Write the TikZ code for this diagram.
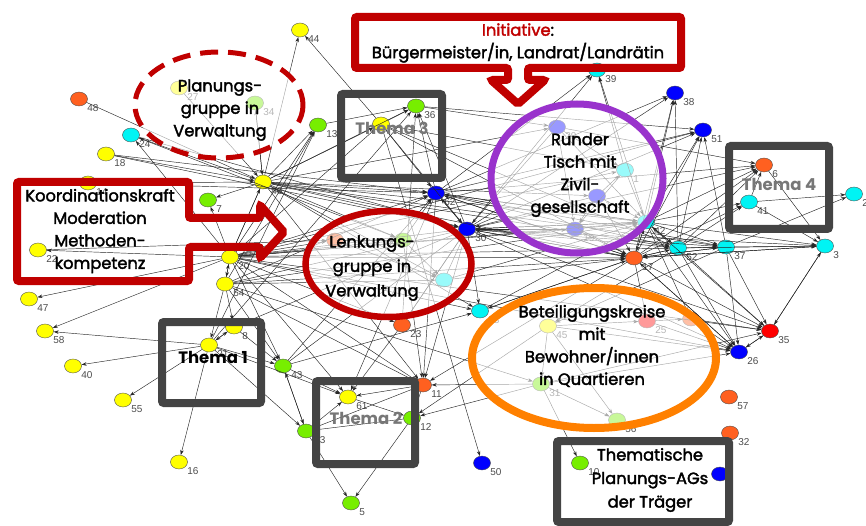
\documentclass[tikz,border=0pt]{standalone}
\usepackage{fontspec}
\setmainfont{Poppins}
\newfontfamily\bigfont{Poppins}[FakeBold=2.2]
\newfontfamily\lblfont{Liberation Sans}
\usetikzlibrary{arrows.meta,shapes.geometric}
\definecolor{yel}{HTML}{FFFF00}
\definecolor{grn}{HTML}{77EE00}
\definecolor{cyn}{HTML}{00F4F4}
\definecolor{blu}{HTML}{0000FF}
\definecolor{org}{HTML}{FF6020}
\definecolor{rd}{HTML}{FF0000}
\definecolor{dred}{HTML}{C00000}
\definecolor{purp}{HTML}{9933CC}
\definecolor{orng}{HTML}{FF8000}
\definecolor{tgray}{HTML}{444444}
\definecolor{thgray}{HTML}{777777}
\tikzset{
  gnode/.style={ellipse,draw=black!70,line width=0.4pt,minimum width=17pt,minimum height=14pt,inner sep=0pt},
  lbl/.style={font=\lblfont\fontsize{10}{10}\selectfont,text=black!70,inner sep=0.5pt,anchor=north west,xshift=1pt},
  edge/.style={draw=black!85,line width=0.45pt,-{Stealth[length=5pt,width=3.5pt]}},
  fade/.style={fill=white,fill opacity=0.6,draw=none},
  big/.style={font=\bigfont\fontsize{16.3}{22.5}\selectfont,align=center,inner sep=0pt},
  themabox/.style={draw=tgray,line width=8pt,rounded corners=2pt},
  thematext/.style={font=\bfseries\fontsize{16.5}{18}\selectfont,text=thgray,inner sep=0pt},
  callout/.style={draw=dred,line width=8pt,rounded corners=2pt}
}
\newcommand\gn[4]{\node[gnode,fill=#3,label={[lbl]-35:#4}] (n#1) at (#2) {};}
\begin{document}
\begin{tikzpicture}[x=1pt,y=-1pt]
\useasboundingbox (0,0) rectangle (866,526);
% graph nodes
\gn{44}{300,30}{yel}{44}
\gn{48}{79,99}{org}{48}
\gn{24}{131,135}{cyn}{24}
\gn{18}{106,154}{yel}{18}
\gn{14}{88,183}{yel}{14}
\gn{7}{208,200}{grn}{7}
\gn{46}{263,182}{yel}{46}
\gn{20}{230,257}{yel}{20}
\gn{54}{225,284}{yel}{54}
\gn{8}{234,327}{yel}{8}
\gn{21}{209,345}{yel}{21}
\gn{22}{38,250}{yel}{22}
\gn{47}{29,299}{yel}{47}
\gn{58}{45,331}{yel}{58}
\gn{40}{73,366}{yel}{40}
\gn{55}{123,400}{yel}{55}
\gn{16}{179,462}{yel}{16}
\gn{13}{318,125}{grn}{13}
\gn{36}{416,106}{grn}{36}
\gn{T3}{381,124}{yel}{}
\gn{62}{436,193}{blu}{62}
\gn{30}{467,229}{blu}{30}
\gn{39}{597,70}{cyn}{39}
\gn{38}{675,93}{blu}{38}
\gn{51}{703,130}{blu}{51}
\gn{6}{764,165}{org}{6}
\gn{41}{749,202}{cyn}{41}
\gn{2}{854,194}{cyn}{2}
\gn{3}{825,246}{cyn}{3}
\gn{37}{726,247}{cyn}{37}
\gn{52}{678,248}{cyn}{52}
\gn{17}{634,258}{org}{17}
\gn{42}{646,222}{cyn}{42}
\gn{35}{770,331}{rd}{35}
\gn{26}{739,352}{blu}{26}
\gn{57}{729,397}{org}{57}
\gn{32}{730,433}{org}{32}
\gn{B}{720,474}{blu}{}
\gn{50}{482,463}{blu}{50}
\gn{10}{580,463}{grn}{10}
\gn{56}{617,420}{grn}{56}
\gn{31}{541,384}{grn}{31}
\gn{45}{548,326}{yel}{45}
\gn{25}{647,321}{rd}{25}
\gn{60}{691,319}{org}{6}
\gn{33}{480,311}{cyn}{33}
\gn{23}{402,325}{org}{23}
\gn{11}{423,385}{org}{11}
\gn{12}{412,418}{grn}{12}
\gn{61}{348,397}{yel}{61}
\gn{53}{306,431}{grn}{53}
\gn{43}{283,366}{grn}{43}
\gn{5}{351,503}{grn}{5}
\gn{L1}{335,240}{org}{}
\gn{L2}{403,240}{grn}{}
\gn{L3}{444,280}{cyn}{}
\gn{29}{557,127}{blu}{29}
\gn{R1}{625,170}{cyn}{1}
\gn{R2}{597,196}{blu}{1}
\gn{19}{575,229}{blu}{19}
\gn{27}{179,88}{yel}{27}
\gn{34}{255,103}{grn}{34}
% edges
\foreach \a/\b in {46/44, T3/44, 46/24, 20/24, 18/46, 18/30, 48/46, 14/46, 46/7, 20/7, 46/20, 20/46, 46/36, 46/13, 46/T3, 46/62, 46/30, 46/L2, 46/L3, 46/33, 46/11, 46/17, 46/42, 46/29, 46/R2, 46/52, 46/37, 46/34, 27/46, 34/46,
20/54, 54/20, 20/22, 20/47, 20/58, 20/13, 20/T3, 20/62, 20/30, 20/L1, 20/L2, 20/23, 20/33, 20/17, 20/42, 20/52, 20/19, 20/R1, 20/26, 20/35, 20/43, 20/11, 20/61, 20/51,
54/21, 54/8, 54/13, 54/62, 54/30, 54/L3, 54/42, 54/17, 54/43, 54/11, 54/31,
21/40, 21/55, 21/16, 21/8, 8/21, 21/43, 21/53, 21/61, 21/58, 21/13, 21/36, 8/43, 8/30,
22/L1, 24/L2, 14/62, 18/62, 24/30,
43/53, 53/43, 43/61, 43/62, 43/30, 43/33,
11/61, 53/61, 61/12, 23/61, 62/61, 11/53, 12/53, 53/5, 12/5, 31/12, 45/12, 11/12,
30/11, 62/11, L2/11, 17/11, 31/11,
T3/50, 31/10, 30/23, 23/36, 23/30, 30/33, 33/42, 33/17,
T3/36, 30/36, 62/36, 13/36, T3/30, T3/62, T3/17, T3/52, T3/R1, 36/29, 36/51,
62/30, 30/62, 62/38, 62/51, 62/6, 62/39, 62/42, 62/17, 62/52, 62/37,
30/38, 30/51, 30/6, 30/39, 30/17, 30/42, 30/52, 30/37, 30/3, 30/35, 30/26,
42/30, 42/38, 42/51, 42/6, 42/41, 42/37, 42/52, 42/17, 42/35, 42/26, 42/3, 42/39, 42/62,
17/30, 17/62, 17/51, 17/38, 17/6, 17/41, 17/37, 17/3, 17/35, 17/26, 17/42, 17/52, 17/33,
52/17, 52/42, 52/37, 52/3, 52/35, 52/26, 52/51, 52/6, 52/38, 52/41,
37/3, 37/2, 37/17, 37/35, 37/26, 37/51, 37/45,
41/2, 41/6, 41/3, 6/3, 3/35, 35/3, 3/17, 35/26, 26/35, 26/17,
R1/39, 29/30, 29/R1, 29/19, R1/19, R2/19, R2/R1, 19/42, R2/42, 29/42, R1/42, 19/17, R2/17, 19/30, R2/30, 29/6,
L1/L3, L2/L3, L1/L2, L3/30, L2/62, L3/17, L3/42,
45/31, 45/25, 25/60, 31/56, 45/56, 60/26, 25/26, 31/26, 45/26, 42/60, 17/25, 52/45, 60/35, 31/35}
  \draw[edge] (n\a) -- (n\b);
% faded group areas
\fill[fade] (219,105) ellipse [x radius=84, y radius=53];
\fill[fade] (388.5,264) ellipse [x radius=83, y radius=53];
\fill[fade] (577,178.5) ellipse [x radius=86, y radius=74.5];
\fill[fade] (594,358) ellipse [x radius=122, y radius=70];
% group outlines
\draw[dred,line width=5pt,dash pattern=on 18pt off 10pt] (219,105) ellipse [x radius=84, y radius=53];
\draw[dred,line width=6.5pt] (388.5,264) ellipse [x radius=83, y radius=53];
\draw[purp,line width=7pt] (577,178.5) ellipse [x radius=86, y radius=74.5];
\draw[orng,line width=8pt] (594,358) ellipse [x radius=122, y radius=70];
% thema boxes
\draw[themabox] (162,322) rectangle (261,403);
\draw[themabox] (316,381) rectangle (415,464);
\draw[themabox] (341,94) rectangle (442,178);
\draw[themabox] (729,146) rectangle (829,229);
\draw[themabox] (557,441) rectangle (729,522);
% callouts
\draw[callout] (355,17) -- (681,17) -- (681,68) -- (528,68) -- (528,80) -- (545,80) -- (518,104) -- (491,80) -- (508,80) -- (508,68) -- (355,68) -- cycle;
\draw[callout] (17,182) -- (189,182) -- (189,218) -- (260,218) -- (260,205) -- (284,232) -- (260,258) -- (260,247) -- (189,247) -- (189,281) -- (17,281) -- cycle;
% texts
\node[big] (tInit) at (518,43) {\textcolor{dred}{Initiative}:\\Bürgermeister/in, Landrat/Landrätin};
\node[big] (tKoord) at (100,231) {Koordinationskraft\\Moderation\\Methoden-\\kompetenz};
\node[big] (tPlan) at (220,110) {Planungs-\\gruppe in\\Verwaltung};
\node[big,font=\bigfont\fontsize{16.3}{24.5}\selectfont] (tLenk) at (372,268) {Lenkungs-\\gruppe in\\Verwaltung};
\node[big] (tRund) at (580,175) {Runder\\Tisch mit\\Zivil-\\gesellschaft};
\node[big] (tBet) at (592,346) {Beteiligungskreise\\mit\\Bewohner/innen\\in Quartieren};
\node[big,font=\bigfont\fontsize{16.3}{23.5}\selectfont] (tThem) at (650,480) {Thematische\\Planungs-AGs\\der Träger};
\node[thematext,text=black] (th1) at (213,357) {Thema 1};
\node[thematext] (th2) at (366,418) {Thema 2};
\node[thematext] (th3) at (392,128) {Thema 3};
\node[thematext] (th4) at (779,184) {Thema 4};
\end{tikzpicture}
\end{document}
